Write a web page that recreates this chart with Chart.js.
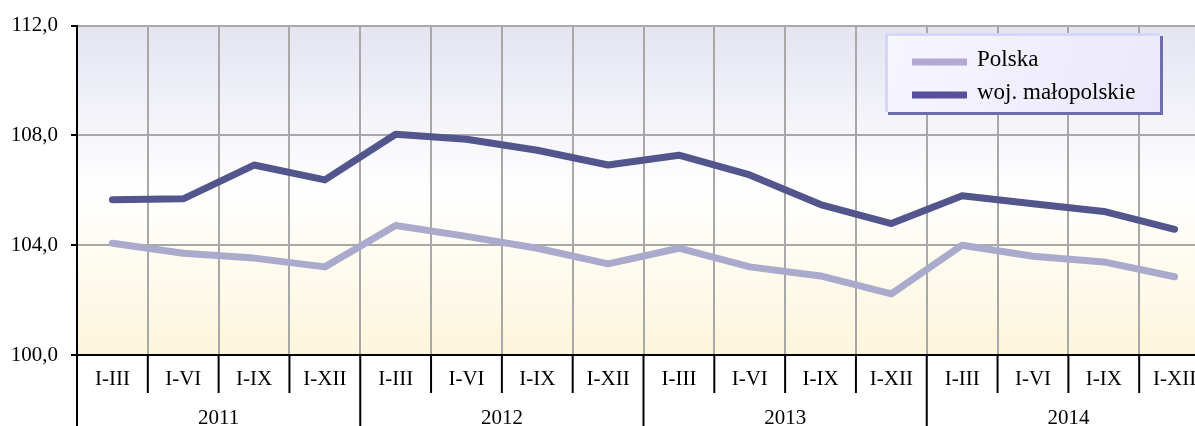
<!DOCTYPE html>
<html>
<head>
<meta charset="utf-8">
<script src="https://cdn.jsdelivr.net/npm/chart.js@4/dist/chart.umd.min.js"></script>
<style>
    html, body { margin: 0; padding: 0; background: #fff; overflow: hidden; }
    #wrap { position: relative; width: 1210px; height: 426px; }
</style>
</head>
<body>
<div id="wrap"><canvas id="chart"></canvas></div>
<script>
const quarters = ['I-III', 'I-VI', 'I-IX', 'I-XII'];
const years = ['2011', '2012', '2013', '2014'];
const polska = [104.07, 103.71, 103.53, 103.21, 104.72, 104.32, 103.89, 103.32, 103.89, 103.21, 102.88, 102.23, 104.00, 103.60, 103.39, 102.85];
const malopolskie = [105.66, 105.69, 106.92, 106.38, 108.04, 107.86, 107.46, 106.92, 107.28, 106.56, 105.48, 104.79, 105.80, 105.51, 105.23, 104.58];
const yTicks = [100, 104, 108, 112];

const labels = years.flatMap(() => quarters);
const FONT = '"Liberation Serif", "Times New Roman", serif';

// background gradient of the plot area
const bgPlugin = {
    id: 'bg',
    beforeDraw(chart) {
        const { ctx, chartArea: a } = chart;
        const g = ctx.createLinearGradient(0, a.top, 0, a.bottom);
        g.addColorStop(0, '#e4e4f2');
        g.addColorStop(0.5, '#ffffff');
        g.addColorStop(1, '#fdf6dc');
        ctx.save();
        ctx.fillStyle = g;
        ctx.fillRect(a.left, a.top, a.right - a.left, a.bottom - a.top);
        ctx.restore();
    }
};

// quarter/year dividers under the axis, year labels and the legend box
const axisPlugin = {
    id: 'axisExtra',
    afterDraw(chart) {
        const { ctx, chartArea: a, scales: { x } } = chart;
        const n = labels.length;
        const step = (x.getPixelForValue(1) - x.getPixelForValue(0));
        ctx.save();
        ctx.strokeStyle = '#000';
        ctx.lineWidth = 2;
        for (let i = 0; i <= n; i++) {
            const px = x.getPixelForValue(i) - step / 2;
            const yearEdge = i % quarters.length === 0;
            ctx.beginPath();
            ctx.moveTo(px, a.bottom);
            ctx.lineTo(px, yearEdge ? chart.height : a.bottom + 38);
            ctx.stroke();
        }
        ctx.fillStyle = '#000';
        ctx.font = '21px ' + FONT;
        ctx.textAlign = 'center';
        ctx.textBaseline = 'middle';
        years.forEach((yr, i) => {
            const first = x.getPixelForValue(i * quarters.length);
            const last = x.getPixelForValue(i * quarters.length + quarters.length - 1);
            ctx.fillText(yr, (first + last) / 2, 418);
        });

        // legend
        const lx = 885, ly = 33, lw = 275, lh = 79;
        ctx.fillStyle = '#6e6faa';
        ctx.fillRect(lx + 3, ly + 3, lw, lh);
        const lg = ctx.createLinearGradient(lx, ly, lx + lw, ly + lh);
        lg.addColorStop(0, '#f6f6ff');
        lg.addColorStop(1, '#ebe8fb');
        ctx.fillStyle = lg;
        ctx.fillRect(lx, ly, lw, lh);
        ctx.strokeStyle = '#d6d6fb';
        ctx.lineWidth = 3;
        ctx.beginPath();
        ctx.moveTo(lx + 1.5, ly + lh);
        ctx.lineTo(lx + 1.5, ly + 1.5);
        ctx.lineTo(lx + lw, ly + 1.5);
        ctx.stroke();
        ctx.textAlign = 'left';
        ctx.font = '23px ' + FONT;
        chart.data.datasets.forEach((ds, i) => {
            const yy = 62 + i * 33;
            ctx.strokeStyle = ds.legendColor;
            ctx.lineWidth = 7;
            ctx.beginPath();
            ctx.moveTo(912, yy);
            ctx.lineTo(967, yy);
            ctx.stroke();
            ctx.fillStyle = '#000';
            ctx.fillText(ds.label, 977, yy - 2);
        });
        ctx.restore();
    }
};

new Chart(document.getElementById('chart'), {
    type: 'line',
    data: {
        labels: labels,
        datasets: [
            {
                label: 'Polska',
                data: polska,
                borderColor: '#aaabcc',
                legendColor: '#b2a8d3',
                borderWidth: 7,
                pointRadius: 0,
                borderCapStyle: 'round',
                borderJoinStyle: 'round',
                tension: 0
            },
            {
                label: 'woj. małopolskie',
                data: malopolskie,
                borderColor: '#53558d',
                legendColor: '#574f98',
                borderWidth: 7,
                pointRadius: 0,
                borderCapStyle: 'round',
                borderJoinStyle: 'round',
                tension: 0
            }
        ]
    },
    options: {
        responsive: true,
        maintainAspectRatio: false,
        animation: false,
        layout: { padding: { top: 22, left: 0, right: 0, bottom: 0 } },
        plugins: {
            legend: { display: false },
            tooltip: { enabled: false }
        },
        scales: {
            x: {
                type: 'category',
                offset: true,
                grid: {
                    offset: true,
                    color: '#a8a8a8',
                    lineWidth: 2,
                    drawTicks: false
                },
                border: { color: '#000', width: 2 },
                ticks: {
                    color: '#000',
                    font: { family: FONT, size: 21 },
                    padding: 12,
                    maxRotation: 0,
                    autoSkip: false
                },
                afterFit: scale => { scale.height = 71; }
            },
            y: {
                min: 100,
                max: 112,
                afterBuildTicks: scale => { scale.ticks = yTicks.map(v => ({ value: v })); },
                grid: {
                    color: '#a8a8a8',
                    lineWidth: 2,
                    tickColor: '#000',
                    tickLength: 6
                },
                border: { color: '#000', width: 2 },
                ticks: {
                    color: '#000',
                    font: { family: FONT, size: 21 },
                    padding: 13,
                    callback: v => v.toFixed(1).replace('.', ',')
                },
                afterFit: scale => { scale.width = 77; }
            }
        }
    },
    plugins: [bgPlugin, axisPlugin]
});
</script>
</body>
</html>
